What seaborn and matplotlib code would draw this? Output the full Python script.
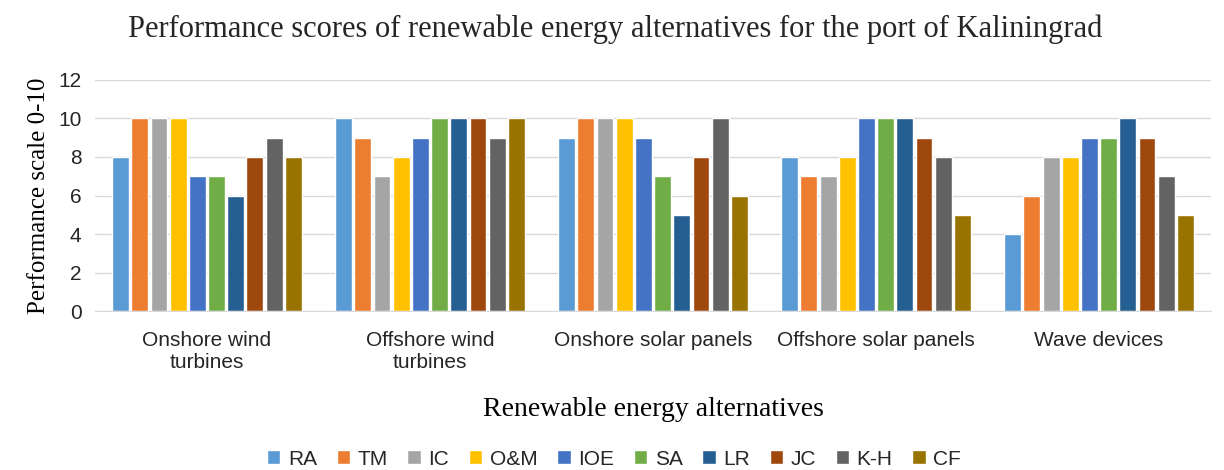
import pandas as pd
import seaborn as sns
import matplotlib.pyplot as plt

# Alternatives (x categories) and criteria (legend)
alternatives = ["Onshore wind\nturbines", "Offshore wind\nturbines",
                "Onshore solar panels", "Offshore solar panels", "Wave devices"]
criteria = ["RA", "TM", "IC", "O&M", "IOE", "SA", "LR", "JC", "K-H", "CF"]

# scores per criterion, one value per alternative
RA = [8, 10, 9, 8, 4]
TM = [10, 9, 10, 7, 6]
IC = [10, 7, 10, 7, 8]
OM = [10, 8, 10, 8, 8]
IOE = [7, 9, 9, 10, 9]
SA = [7, 10, 7, 10, 9]
LR = [6, 10, 5, 10, 10]
JC = [8, 10, 8, 9, 9]
KH = [9, 9, 10, 8, 7]
CF = [8, 10, 6, 5, 5]

colors = ["#5B9BD5", "#ED7D31", "#A5A5A5", "#FFC000", "#4472C4",
          "#70AD47", "#255E91", "#9E480E", "#636363", "#997300"]

series = [RA, TM, IC, OM, IOE, SA, LR, JC, KH, CF]
rows = []
for crit, vals in zip(criteria, series):
    for alt, v in zip(alternatives, vals):
        rows.append({"Alternative": alt, "Criterion": crit, "Score": v})
df = pd.DataFrame(rows)

sns.set_style("white")
plt.rcParams["font.family"] = ["Liberation Sans", "DejaVu Sans"]

fig = plt.figure(figsize=(12.24, 4.70), dpi=100)
ax = fig.add_axes([0.078, 0.338, 0.911, 0.492])

sns.barplot(data=df, x="Alternative", y="Score", hue="Criterion",
            hue_order=criteria, order=alternatives, palette=colors,
            width=0.86, gap=0.12, saturation=1, ax=ax, legend=True)

ax.set_ylim(0, 12)
ax.set_yticks(range(0, 13, 2))
ax.yaxis.grid(True, color="#D9D9D9", linewidth=1)
ax.set_axisbelow(True)
for s in ["top", "right", "left"]:
    ax.spines[s].set_visible(False)
ax.spines["bottom"].set_color("#D9D9D9")
ax.tick_params(axis="both", length=0, labelsize=15, colors="#262626")
ax.tick_params(axis="x", pad=14)
ax.tick_params(axis="y", pad=10)

ax.set_xlabel("Renewable energy alternatives", family="Liberation Serif",
              fontsize=20, color="black", labelpad=18)
ax.set_ylabel("Performance scale 0-10", family="Liberation Serif",
              fontsize=18, color="black", labelpad=6)
fig.suptitle("Performance scores of renewable energy alternatives for the port of Kaliningrad",
             family="Liberation Serif", fontsize=22, x=0.503, y=0.97)

ax.legend(loc="center", bbox_to_anchor=(0.465, -0.64), ncol=10, frameon=False,
          fontsize=15, handlelength=0.65, handleheight=0.65, handletextpad=0.35,
          columnspacing=0.95, labelcolor="#262626", borderpad=0.2)

fig.savefig("out.png", dpi=100)
